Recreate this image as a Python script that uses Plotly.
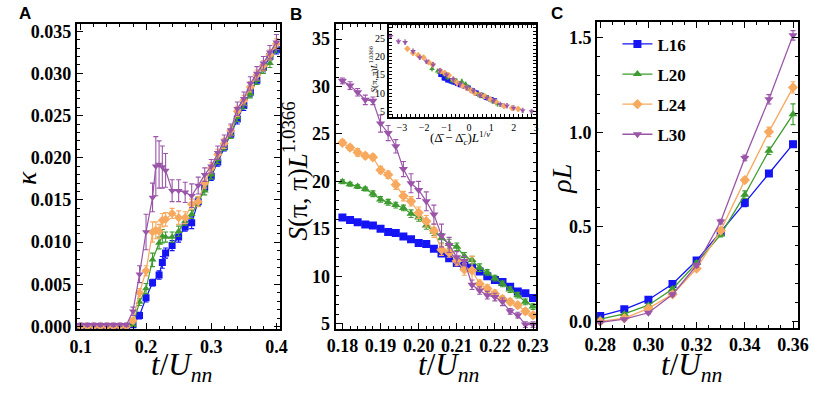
import plotly.graph_objects as go

W, H = 829, 393
def px(x): return x / W
def py(y): return 1 - y / H

# ---------------- Panel A: kappa vs t/Unn ----------------
tA16 = [0.10,0.11,0.12,0.13,0.14,0.15,0.16,0.17,0.18,0.19,0.20,0.21,0.22,0.225,0.23,0.24,0.25,0.26,0.27,0.28,0.29,0.30,0.31,0.32,0.33,0.34,0.35,0.36,0.37,0.38,0.39,0.40]
kA16 = [0,0,0,0,0,0,0,0,0.0002,0.0013,0.0034,0.0052,0.0061,0.0076,0.0087,0.0096,0.0106,0.0118,0.0123,0.0148,0.0165,0.0178,0.0195,0.0213,0.0228,0.0246,0.0262,0.0278,0.0292,0.0307,0.0320,0.0328]
eA16 = [0.0001,0.0001,0.0001,0.0001,0.0001,0.0001,0.0001,0.0001,0.0002,0.0004,0.0005,0.0004,0.0005,0.0007,0.0006,0.0006,0.0006,0.0005,0.0007,0.0005,0.0005,0.0005,0.0005,0.0005,0.0005,0.0006,0.0006,0.0005,0.0005,0.0005,0.0005,0.0005]

tA20 = [0.10,0.11,0.12,0.13,0.14,0.15,0.16,0.17,0.18,0.19,0.20,0.21,0.22,0.225,0.23,0.24,0.25,0.26,0.27,0.28,0.29,0.30,0.31,0.32,0.33,0.34,0.35,0.36,0.37,0.38,0.39,0.40]
kA20 = [0,0,0,0,0,0,0,0,0.0002,0.0029,0.0045,0.0079,0.0099,0.0107,0.0106,0.0106,0.0113,0.0125,0.0133,0.0148,0.0161,0.0180,0.0198,0.0214,0.0228,0.0248,0.0263,0.0276,0.0292,0.0305,0.0312,0.0330]
eA20 = [0.0001,0.0001,0.0001,0.0001,0.0001,0.0001,0.0001,0.0001,0.0002,0.0004,0.0006,0.0008,0.0007,0.0008,0.0006,0.0006,0.0006,0.0005,0.0005,0.0005,0.0005,0.0005,0.0005,0.0005,0.0005,0.0005,0.0005,0.0005,0.0005,0.0005,0.0005,0.0005]

tA24 = [0.10,0.11,0.12,0.13,0.14,0.15,0.16,0.17,0.18,0.19,0.20,0.21,0.215,0.22,0.225,0.23,0.24,0.25,0.26,0.27,0.28,0.29,0.30,0.31,0.32,0.33,0.34,0.35,0.36,0.37,0.38,0.39,0.40]
kA24 = [0,0,0,0,0,0,0,0,0.0007,0.0040,0.0066,0.0112,0.0114,0.0113,0.0126,0.0127,0.0134,0.0129,0.0129,0.0145,0.0148,0.0170,0.0188,0.0204,0.0217,0.0232,0.0255,0.0268,0.0284,0.0298,0.0309,0.0322,0.0335]
eA24 = [0.0001,0.0001,0.0001,0.0001,0.0001,0.0001,0.0001,0.0001,0.0003,0.0005,0.0006,0.0012,0.0010,0.0008,0.0008,0.0008,0.0006,0.0008,0.0007,0.0006,0.0006,0.0006,0.0006,0.0006,0.0006,0.0006,0.0006,0.0006,0.0006,0.0006,0.0006,0.0006,0.0006]

tA30 = [0.10,0.11,0.12,0.13,0.14,0.15,0.16,0.17,0.18,0.19,0.20,0.21,0.215,0.22,0.225,0.23,0.24,0.25,0.26,0.27,0.28,0.29,0.30,0.31,0.32,0.33,0.34,0.35,0.36,0.37,0.38,0.39,0.40]
kA30 = [0.0002,0.0002,0.0002,0.0002,0.0002,0.0002,0.0002,0.0002,0.0018,0.0062,0.0112,0.0153,0.0190,0.0192,0.0189,0.0185,0.0161,0.0161,0.0159,0.0155,0.0167,0.0180,0.0190,0.0206,0.0220,0.0233,0.0258,0.0270,0.0288,0.0300,0.0312,0.0325,0.0337]
eA30 = [0.0002,0.0002,0.0002,0.0002,0.0002,0.0002,0.0002,0.0002,0.0005,0.0010,0.0021,0.0017,0.0035,0.0028,0.0025,0.0020,0.0013,0.0013,0.0012,0.0014,0.0010,0.0008,0.0008,0.0008,0.0007,0.0007,0.0008,0.0008,0.0008,0.0008,0.0008,0.0008,0.0009]

# ---------------- Panel B: S(pi,pi) L^1.0366 vs t/Unn ----------------
tB = [0.180,0.182,0.184,0.186,0.188,0.190,0.192,0.194,0.196,0.198,0.200,0.202,0.204,0.206,0.208,0.210,0.212,0.214,0.216,0.218,0.220,0.222,0.224,0.226,0.228,0.230]
sB16 = [16.2,15.93,15.69,15.45,15.35,15.0,14.67,14.57,14.2,13.9,13.5,13.4,12.9,12.4,11.9,11.4,11.1,10.9,10.5,10.0,9.6,9.4,8.9,8.4,8.2,7.7]
eB16 = [0.15,0.15,0.15,0.15,0.15,0.15,0.15,0.15,0.15,0.15,0.15,0.15,0.15,0.15,0.15,0.15,0.15,0.15,0.15,0.15,0.15,0.15,0.15,0.15,0.15,0.15]
sB20 = [19.97,19.7,19.45,19.2,18.7,18.1,17.8,17.5,17.2,16.6,16.2,15.35,14.7,14.0,13.4,13.1,12.1,11.7,10.9,10.4,9.8,9.2,8.6,8.0,7.3,6.8]
eB20 = [0.2,0.2,0.2,0.2,0.3,0.3,0.3,0.3,0.3,0.4,0.4,0.4,0.4,0.5,0.5,0.4,0.4,0.4,0.4,0.3,0.3,0.3,0.3,0.3,0.3,0.3]
sB24 = [24.08,23.57,23.06,22.7,22.55,21.2,20.7,19.65,18.45,17.9,16.7,15.8,14.8,12.8,12.5,11.6,10.7,10.6,9.2,8.7,8.15,7.6,7.3,6.95,6.3,5.9]
eB24 = [0.3,0.3,0.4,0.3,0.3,0.4,0.4,0.5,0.5,0.5,0.6,0.6,0.7,0.6,0.5,0.5,0.6,1.5,0.4,0.4,0.4,0.3,0.3,0.3,0.3,0.3]
sB30 = [30.6,30.1,29.4,28.6,28.5,26.1,25.1,23.7,21.3,19.8,19.1,17.9,16.5,14.3,13.3,12.0,11.6,9.1,8.5,8.0,7.8,7.3,6.3,5.9,4.9,4.9]
eB30 = [0.3,0.4,0.4,0.5,0.4,0.9,0.8,0.7,0.8,1.0,0.9,1.0,1.0,1.2,0.8,0.6,0.5,0.5,0.4,0.4,0.4,0.4,0.3,0.3,0.3,0.3]

# ---------------- Inset of B: data collapse ----------------
iX16 = [-1.26,-1.11,-0.95,-0.8,-0.68,-0.52,-0.39,-0.2,-0.03,0.15,0.33,0.55,0.77,0.99,1.15]
iY16 = [15.1,14.1,13.6,13.3,13.0,12.6,12.3,11.9,11.4,10.7,10.0,9.4,8.8,8.2,7.9]
iX20 = [-1.65,-1.4,-1.1,-0.95,-0.75,-0.55,-0.32,-0.15,-0.03,0.2,0.41,0.62,0.84,1.05,1.28,1.57]
iY20 = [16.7,16.0,15.2,14.3,13.4,13.3,13.2,12.4,11.6,10.6,9.6,9.2,8.7,7.8,7.0,6.4]
iX24 = [-2.75,-2.5,-2.27,-2.03,-1.8,-1.62,-1.26,-1.08,-0.9,-0.7,-0.53,-0.3,-0.1,0.1,0.26,0.5,0.7,0.95,1.2,1.57,1.93,2.2]
iY24 = [22.2,21.0,20.4,19.8,18.5,17.8,16.0,15.5,14.9,13.7,12.8,12.0,11.4,10.7,10.0,9.5,9.1,8.3,7.6,6.4,5.9,5.6]
iX30 = [-3.5,-3.15,-2.85,-2.5,-2.2,-1.9,-1.6,-1.3,-1.0,-0.7,-0.4,-0.1,0.2,0.5,0.8,1.1,1.4,1.7,2.0,2.4,2.8]
iY30 = [25.6,24.2,24.0,21.5,19.8,18.7,17.8,16.2,15.0,13.8,12.5,11.5,10.6,9.3,8.6,7.9,6.9,6.5,5.9,5.2,4.9]

# ---------------- Panel C: rho L vs t/Unn ----------------
tC = [0.28,0.29,0.30,0.31,0.32,0.33,0.34,0.35,0.36]
rC16 = [0.029,0.064,0.115,0.198,0.322,0.473,0.627,0.782,0.937]
eC16 = [0.005,0.005,0.006,0.006,0.008,0.010,0.020,0.015,0.015]
rC20 = [0.012,0.040,0.086,0.172,0.309,0.459,0.670,0.902,1.095]
eC20 = [0.004,0.005,0.006,0.008,0.010,0.012,0.020,0.020,0.055]
rC24 = [0.0,0.017,0.069,0.143,0.280,0.481,0.747,1.002,1.237]
eC24 = [0.004,0.005,0.006,0.008,0.010,0.012,0.015,0.025,0.030]
rC30 = [-0.005,0.012,0.046,0.143,0.297,0.528,0.864,1.174,1.512]
eC30 = [0.004,0.005,0.006,0.008,0.010,0.012,0.015,0.025,0.025]

names = ["L16", "L20", "L24", "L30"]
colors = ["#1414f5", "#3d9b2f", "#f7a95e", "#9a55a8"]
symbols = ["square", "triangle-up", "diamond", "triangle-down"]

A = [(tA16, kA16, eA16), (tA20, kA20, eA20), (tA24, kA24, eA24), (tA30, kA30, eA30)]
B = [(sB16, eB16), (sB20, eB20), (sB24, eB24), (sB30, eB30)]
INS = [(iX16, iY16), (iX20, iY20), (iX24, iY24), (iX30, iY30)]
C = [(rC16, eC16), (rC20, eC20), (rC24, eC24), (rC30, eC30)]

fig = go.Figure()

def err(arr, c):
    return dict(type="data", array=arr, color=c, thickness=1.1, width=2.5)

for i in range(4):
    c = colors[i]
    t, k, e = A[i]
    fig.add_trace(go.Scatter(x=t, y=k, error_y=err(e, c), mode="lines+markers",
                             line=dict(color=c, width=1.2),
                             marker=dict(symbol=symbols[i], size=7, color=c),
                             xaxis="x", yaxis="y", showlegend=False, legendgroup=names[i]))
for i in range(4):
    c = colors[i]
    s, e = B[i]
    fig.add_trace(go.Scatter(x=tB, y=s, error_y=err(e, c), mode="lines+markers",
                             line=dict(color=c, width=1.2),
                             marker=dict(symbol=symbols[i], size=8, color=c),
                             xaxis="x2", yaxis="y2", showlegend=False, legendgroup=names[i]))
for i in range(4):
    c = colors[i]
    r, e = C[i]
    fig.add_trace(go.Scatter(x=tC, y=r, error_y=err(e, c), mode="lines+markers",
                             line=dict(color=c, width=1.3),
                             marker=dict(symbol=symbols[i], size=8, color=c),
                             xaxis="x3", yaxis="y3", name=names[i], legendgroup=names[i]))
for i in range(4):
    c = colors[i]
    xs, ys = INS[i]
    fig.add_trace(go.Scatter(x=xs, y=ys, mode="markers",
                             marker=dict(symbol=symbols[i], size=5, color=c),
                             error_y=dict(type="constant", value=0.6, color=c, thickness=0.8, width=1),
                             xaxis="x4", yaxis="y4", showlegend=False, legendgroup=names[i]))

SERIF = "Liberation Serif, Times New Roman, serif"
boldtick = dict(family=SERIF, size=18, color="black", weight="bold")
def ax(**kw):
    d = dict(showline=True, linecolor="black", linewidth=2, mirror="allticks",
             ticks="inside", ticklen=6, tickwidth=1, tickcolor="black",
             showgrid=False, zeroline=False, tickfont=boldtick)
    d.update(kw)
    return d

def minor(dt, t0=0):
    return dict(ticks="inside", ticklen=3, tickwidth=1, tickcolor="black", dtick=dt, tick0=t0, showgrid=False)

fig.update_layout(
    width=W, height=H, autosize=False,
    margin=dict(l=0, r=0, t=0, b=0),
    paper_bgcolor="white", plot_bgcolor="white",
    xaxis=ax(domain=[px(66), px(276)], range=[0.094, 0.406], anchor="y",
             tickvals=[0.1, 0.2, 0.3, 0.4], ticktext=["0.1", "0.2", "0.3", "0.4"], minor=minor(0.02)),
    yaxis=ax(domain=[py(335), py(22)], range=[-0.00035, 0.0358], anchor="x",
             dtick=0.005, tick0=0, tickformat=".3f", minor=minor(0.001)),
    xaxis2=ax(domain=[px(333), px(540)], range=[0.1782, 0.2308], anchor="y2",
              dtick=0.01, tick0=0.18, tickformat=".2f", minor=minor(0.002)),
    yaxis2=ax(domain=[py(334), py(22)], range=[4.49, 36.55], anchor="x2",
              dtick=5, tick0=0, minor=minor(1)),
    xaxis3=ax(domain=[px(603), px(810)], range=[0.2787, 0.3619], anchor="y3",
              dtick=0.02, tick0=0.28, tickformat=".2f", minor=minor(0.005)),
    yaxis3=ax(domain=[py(333), py(20)], range=[-0.032, 1.58], anchor="x3",
              dtick=0.5, tick0=0, tickformat=".1f", minor=minor(0.1)),
    xaxis4=ax(domain=[px(388), px(540)], range=[-3.58, 3.0], anchor="y4", linewidth=1.5,
              dtick=1, tick0=0, ticklen=3, minor=minor(0.2),
              tickfont=dict(family=SERIF, size=10, color="black")),
    yaxis4=ax(domain=[py(117), py(23)], range=[3.4, 28.6], anchor="x4", linewidth=1.5,
              dtick=5, tick0=0, ticklen=3, minor=minor(1),
              tickfont=dict(family=SERIF, size=10, color="black")),
    legend=dict(x=px(624), y=py(24), xanchor="left", yanchor="top",
                bgcolor="rgba(0,0,0,0)", traceorder="grouped", tracegroupgap=5,
                font=dict(family=SERIF, size=17, color="black", weight="bold")),
)

ann = []
def addtext(text, x, y, size, family=SERIF, angle=0, bold=False):
    f = dict(family=family, size=size, color="black")
    if bold:
        f["weight"] = "bold"
    ann.append(dict(text=text, x=px(x), y=py(y), xref="paper", yref="paper",
                    showarrow=False, xanchor="center", yanchor="middle",
                    textangle=angle, font=f))

xt = "<i>t</i>/<i>U</i><sub><i>nn</i></sub>"
addtext(xt, 174, 374, 31)
addtext(xt, 450, 374, 31)
addtext(xt, 700, 374, 31)
addtext("<i>κ</i>", 14, 180, 28, angle=-90)
addtext("<i>S</i>(π, π)<i>L</i><sup>1.0366</sup>", 291, 172, 27, angle=-90)
addtext("<i>ρL</i>", 566, 180, 28, angle=-90)
addtext("(Δ̄ − Δ̄<sub><i>c</i></sub>)<i>L</i><sup>1/<i>ν</i></sup>", 462, 139, 13)
addtext("<i>S</i>(π, π)<i>L</i><sup>1.0366</sup>", 372, 68, 9, angle=-90)
addtext("A", 12, 11, 17, family="Liberation Sans, Arial, sans-serif", bold=True)
addtext("B", 292, 12, 17, family="Liberation Sans, Arial, sans-serif", bold=True)
addtext("C", 562, 11, 17, family="Liberation Sans, Arial, sans-serif", bold=True)
fig.update_layout(annotations=ann)

fig.write_html("out.html", config={"displayModeBar": False},
               post_script="document.body.style.margin='0px';document.body.style.overflow='hidden';")
